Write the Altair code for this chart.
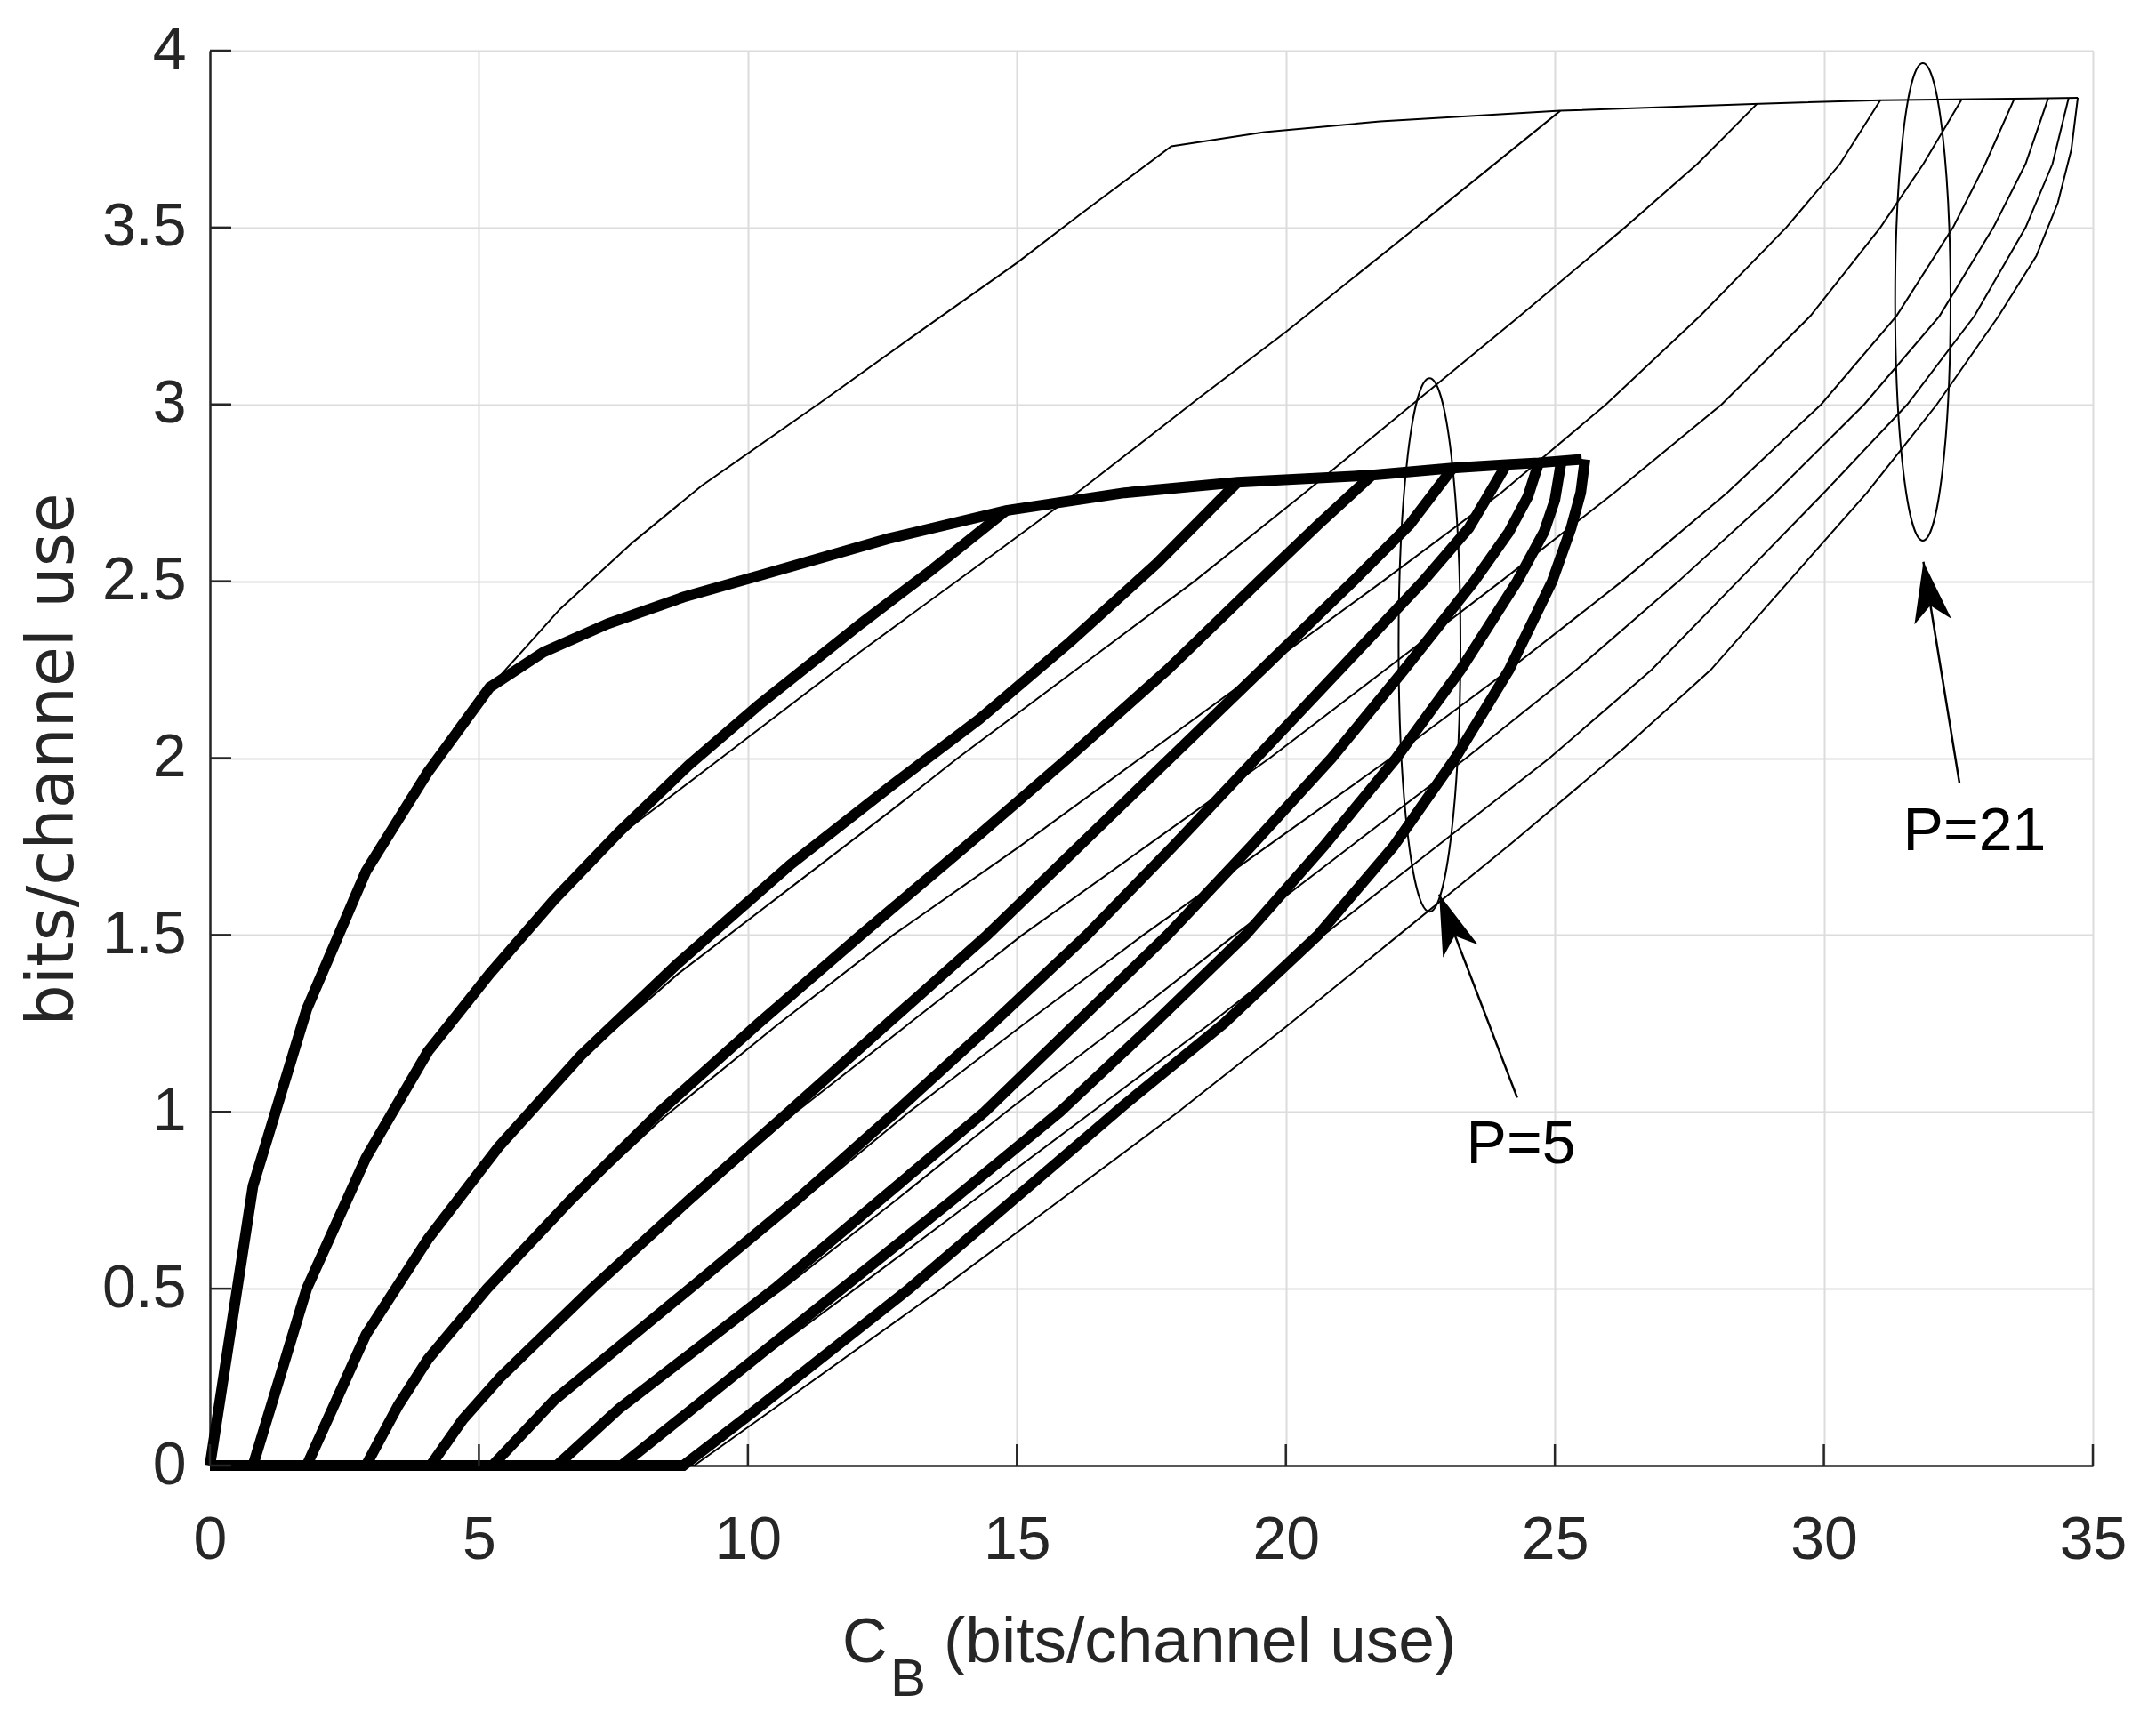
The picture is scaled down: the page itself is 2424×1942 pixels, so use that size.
import altair as alt
import pandas as pd

# ---------------- data ----------------
X_TICKS = [0, 5, 10, 15, 20, 25, 30, 35]
Y_TICKS = [0, 0.5, 1, 1.5, 2, 2.5, 3, 3.5, 4]

# P = 5 family (thick curves)
T1_X = [0, 0.8, 1.8, 2.9, 4.05, 5.2, 6.2, 7.4, 8.8, 10.3, 12.6, 14.8, 17.0, 19.1, 21.6, 23.1, 24.1, 24.7, 25.1, 25.5]
T1_Y = [0, 0.79, 1.29, 1.68, 1.96, 2.2, 2.3, 2.38, 2.455, 2.52, 2.62, 2.70, 2.75, 2.78, 2.80, 2.82, 2.83, 2.835, 2.84, 2.845]
T2_X = [0, 0.8, 1.8, 2.9, 4.05, 5.2, 6.4, 7.6, 8.9, 10.2, 12.1, 13.4, 14.8]
T2_Y = [0, 0, 0.5, 0.87, 1.17, 1.39, 1.6, 1.79, 1.98, 2.15, 2.38, 2.53, 2.70]
T3_X = [0, 1.8, 2.9, 4.05, 5.36, 6.9, 8.7, 10.8, 12.65, 14.3, 16.0, 17.6, 19.1]
T3_Y = [0, 0, 0.37, 0.64, 0.9, 1.16, 1.42, 1.7, 1.92, 2.11, 2.33, 2.55, 2.78]
T4_X = [0, 2.9, 3.5, 4.05, 5.15, 6.7, 8.36, 10.2, 12.1, 14.2, 15.95, 17.8, 19.5, 20.6, 21.6]
T4_Y = [0, 0, 0.17, 0.3, 0.5, 0.75, 1.0, 1.25, 1.5, 1.77, 2.0, 2.25, 2.5, 2.66, 2.80]
T5_X = [0, 4.1, 4.7, 5.4, 7.1, 8.9, 10.76, 12.6, 14.45, 16.15, 17.85, 19.55, 21.25, 22.3, 23.1]
T5_Y = [0, 0, 0.13, 0.25, 0.5, 0.75, 1.0, 1.25, 1.5, 1.75, 2.0, 2.25, 2.5, 2.66, 2.82]
T6_X = [0, 5.25, 6.4, 9.0, 10.9, 12.75, 14.55, 16.3, 17.9, 19.45, 21.0, 22.55, 23.4, 24.1]
T6_Y = [0, 0, 0.185, 0.51, 0.75, 1.0, 1.25, 1.5, 1.75, 2.0, 2.25, 2.5, 2.65, 2.83]
T7_X = [0, 6.45, 7.6, 10.5, 12.45, 14.4, 16.1, 17.8, 19.35, 20.85, 22.2, 23.5, 24.15, 24.5, 24.7]
T7_Y = [0, 0, 0.16, 0.5, 0.75, 1.0, 1.25, 1.5, 1.75, 2.0, 2.25, 2.5, 2.64, 2.74, 2.835]
T8_X = [0, 7.65, 8.8, 11.75, 13.8, 15.8, 17.55, 19.25, 20.7, 22.05, 23.25, 24.3, 24.8, 25.0, 25.12]
T8_Y = [0, 0, 0.14, 0.5, 0.75, 1.0, 1.25, 1.5, 1.75, 2.0, 2.25, 2.5, 2.64, 2.73, 2.84]
T9_X = [0, 8.8, 10.0, 13.0, 15.0, 17.0, 18.85, 20.6, 22.0, 23.15, 24.15, 24.95, 25.3, 25.48, 25.56]
T9_Y = [0, 0, 0.14, 0.5, 0.76, 1.02, 1.25, 1.5, 1.75, 2.0, 2.25, 2.5, 2.65, 2.75, 2.845]

# P = 21 family (thin curves)
N1_X = [0, 0.8, 1.8, 2.9, 4.05, 5.2, 6.5, 7.86, 9.14, 11.3, 13.0, 15.0, 16.2, 17.87, 19.6, 21.75, 25.1, 28.8, 31.05, 33.5, 34.72]
N1_Y = [0, 0.79, 1.29, 1.68, 1.96, 2.2, 2.42, 2.61, 2.77, 3.0, 3.185, 3.4, 3.54, 3.73, 3.77, 3.80, 3.83, 3.85, 3.86, 3.864, 3.867]
N2_X = [0, 0.8, 1.8, 2.9, 4.05, 5.2, 6.4, 7.6, 9.5, 12.08, 14.15, 16.2, 18.4, 20.0, 22.5, 25.1]
N2_Y = [0, 0, 0.5, 0.87, 1.17, 1.39, 1.6, 1.78, 2.0, 2.3, 2.53, 2.76, 3.02, 3.205, 3.51, 3.83]
N3_X = [0, 1.8, 2.9, 4.05, 5.36, 6.9, 8.7, 10.5, 12.65, 13.9, 16.1, 18.3, 20.35, 22.35, 24.35, 26.3, 27.65, 28.76]
N3_Y = [0, 0, 0.37, 0.64, 0.9, 1.15, 1.39, 1.6, 1.85, 2.0, 2.25, 2.5, 2.75, 3.0, 3.25, 3.5, 3.68, 3.85]
N4_X = [0, 2.9, 3.5, 4.05, 5.15, 6.7, 8.4, 10.5, 12.7, 15.05, 17.3, 19.55, 21.8, 24.0, 25.95, 27.7, 29.3, 30.3, 31.05]
N4_Y = [0, 0, 0.17, 0.3, 0.5, 0.74, 0.98, 1.24, 1.5, 1.75, 2.0, 2.25, 2.5, 2.75, 3.0, 3.25, 3.5, 3.68, 3.86]
N5_X = [0, 4.1, 4.7, 5.4, 7.15, 9.0, 10.9, 13.0, 15.1, 17.4, 19.7, 21.85, 24.0, 26.1, 28.1, 29.75, 31.05, 31.85, 32.56]
N5_Y = [0, 0, 0.13, 0.25, 0.5, 0.75, 1.0, 1.25, 1.5, 1.75, 2.0, 2.25, 2.5, 2.75, 3.0, 3.25, 3.5, 3.68, 3.862]
N6_X = [0, 5.25, 6.4, 9.1, 11.05, 13.0, 15.15, 17.35, 19.65, 21.95, 24.15, 26.25, 28.2, 29.95, 31.35, 32.4, 33.0, 33.54]
N6_Y = [0, 0, 0.185, 0.51, 0.755, 1.0, 1.25, 1.5, 1.75, 2.0, 2.25, 2.5, 2.75, 3.0, 3.25, 3.5, 3.68, 3.864]
N7_X = [0, 6.45, 7.6, 10.65, 12.75, 14.8, 16.95, 19.05, 21.2, 23.35, 25.4, 27.3, 29.1, 30.75, 32.15, 33.15, 33.75, 34.17]
N7_Y = [0, 0, 0.16, 0.5, 0.75, 1.0, 1.25, 1.5, 1.75, 2.0, 2.25, 2.5, 2.75, 3.0, 3.25, 3.5, 3.68, 3.865]
N8_X = [0, 7.65, 8.8, 12.0, 14.2, 16.4, 18.6, 20.7, 22.8, 24.9, 26.8, 28.4, 30.0, 31.55, 32.8, 33.75, 34.25, 34.55]
N8_Y = [0, 0, 0.14, 0.5, 0.75, 1.0, 1.25, 1.5, 1.75, 2.0, 2.25, 2.5, 2.75, 3.0, 3.25, 3.5, 3.68, 3.866]
N9_X = [0, 9.0, 10.2, 13.6, 15.8, 18.0, 20.0, 22.1, 24.2, 26.3, 27.9, 29.35, 30.8, 32.1, 33.25, 33.95, 34.35, 34.6, 34.72]
N9_Y = [0, 0, 0.13, 0.5, 0.75, 1.0, 1.24, 1.5, 1.76, 2.03, 2.25, 2.5, 2.75, 3.0, 3.25, 3.42, 3.57, 3.72, 3.867]

# annotations
LABELS = ["P=5", "P=21"]
LABEL_X = [24.37, 32.8]
LABEL_Y = [0.905, 1.79]
ELLIPSE_X = [22.67, 31.84]
ELLIPSE_Y = [2.32, 3.29]
ARROW_TAIL_X = [24.3, 32.52]
ARROW_TAIL_Y = [1.04, 1.93]
ARROW_TIP_X = [22.85, 31.85]
ARROW_TIP_Y = [1.615, 2.555]

# ---------------- layout / style ----------------
W, H = 2117, 1591
FONT = "Liberation Sans"
AX = "#262626"
GRID = "#dcdcdc"


def curve_frame(pairs, prefix):
    rows = []
    for k, (xs, ys) in enumerate(pairs, start=1):
        for i, (a, b) in enumerate(zip(xs, ys)):
            rows.append({"x": a, "y": b, "curve": f"{prefix}{k}", "i": i})
    return pd.DataFrame(rows)


thick = curve_frame([(T1_X, T1_Y), (T2_X, T2_Y), (T3_X, T3_Y), (T4_X, T4_Y), (T5_X, T5_Y),
                     (T6_X, T6_Y), (T7_X, T7_Y), (T8_X, T8_Y), (T9_X, T9_Y)], "T")
thin = curve_frame([(N1_X, N1_Y), (N2_X, N2_Y), (N3_X, N3_Y), (N4_X, N4_Y), (N5_X, N5_Y),
                    (N6_X, N6_Y), (N7_X, N7_Y), (N8_X, N8_Y), (N9_X, N9_Y)], "N")

xsc = alt.Scale(domain=[0, 35], nice=False, zero=False)
ysc = alt.Scale(domain=[0, 4], nice=False, zero=False)

xax = alt.Axis(values=X_TICKS, grid=True, gridColor=GRID, gridWidth=2,
               domainColor=AX, domainWidth=2.5, ticks=False, tickSize=0,
               labelFont=FONT, labelFontSize=68, labelColor=AX, labelPadding=50,
               labelFlush=False, labelOverlap=False, title=None, format="~g")
yax = alt.Axis(values=Y_TICKS, grid=True, gridColor=GRID, gridWidth=2,
               domainColor=AX, domainWidth=2.5, ticks=False, tickSize=0,
               labelFont=FONT, labelFontSize=68, labelColor=AX, labelPadding=27,
               labelFlush=False, labelOverlap=False, title=None, format="~g")


def X(f="x"):
    return alt.X(f"{f}:Q", scale=xsc, axis=xax)


def Y(f="y"):
    return alt.Y(f"{f}:Q", scale=ysc, axis=yax)


thick_layer = alt.Chart(thick).mark_line(color="black", strokeWidth=12, strokeCap="butt",
                                         strokeJoin="miter").encode(
    x=X(), y=Y(), detail="curve:N", order="i:Q")
thin_layer = alt.Chart(thin).mark_line(color="black", strokeWidth=2).encode(
    x=X(), y=Y(), detail="curve:N", order="i:Q")

# inward ticks (MATLAB style)
xt = alt.Chart(pd.DataFrame({"x": X_TICKS})).mark_rule(color=AX, strokeWidth=2.5).encode(
    x=X(), y=alt.value(H), y2=alt.value(H - 24))
yt = alt.Chart(pd.DataFrame({"y": Y_TICKS})).mark_rule(color=AX, strokeWidth=2.5).encode(
    y=Y(), x=alt.value(0), x2=alt.value(24))

ann = pd.DataFrame({"label": LABELS, "lx": LABEL_X, "ly": LABEL_Y,
                    "ex": ELLIPSE_X, "ey": ELLIPSE_Y,
                    "tx": ARROW_TAIL_X, "ty": ARROW_TAIL_Y,
                    "hx": ARROW_TIP_X, "hy": ARROW_TIP_Y})

K = 0.5523
R = 0.116
ELLIPSE = (f"M0,-1C{K*R:.4f},-1 {R},{-K} {R},0C{R},{K} {K*R:.4f},1 0,1"
           f"C{-K*R:.4f},1 {-R},{K} {-R},0C{-R},{-K} {-K*R:.4f},-1 0,-1Z")
HEAD = "M0,0L0.4,1.3L0,0.95L-0.4,1.3Z"

ann5 = ann.iloc[[0]]
ann21 = ann.iloc[[1]]

ell5 = alt.Chart(ann5).mark_point(shape=ELLIPSE, filled=False, color="black", strokeWidth=2,
                                  opacity=1, size=600 ** 2).encode(x=X("ex"), y=Y("ey"))
ell21 = alt.Chart(ann21).mark_point(shape=ELLIPSE, filled=False, color="black", strokeWidth=2,
                                    opacity=1, size=537 ** 2).encode(x=X("ex"), y=Y("ey"))

arrow_lines = alt.Chart(ann).mark_rule(color="black", strokeWidth=2.5).encode(
    x=X("tx"), y=Y("ty"), x2="hx:Q", y2="hy:Q")
head5 = alt.Chart(ann5).mark_point(shape=HEAD, filled=True, color="black", opacity=1,
                                   size=11000, angle=339.5, strokeWidth=0).encode(x=X("hx"), y=Y("hy"))
head21 = alt.Chart(ann21).mark_point(shape=HEAD, filled=True, color="black", opacity=1,
                                     size=11000, angle=351, strokeWidth=0).encode(x=X("hx"), y=Y("hy"))

labels = alt.Chart(ann).mark_text(font=FONT, fontSize=68, color="black", align="center",
                                  baseline="middle").encode(x=X("lx"), y=Y("ly"), text="label:N")

# axis titles
ytitle = alt.Chart(pd.DataFrame({"t": ["bits/channel use"]})).mark_text(
    font="DejaVu Sans", fontSize=73, color=AX, angle=270, align="center", baseline="middle").encode(
    x=alt.value(-176), y=alt.value(797), text="t:N")
xt_c = alt.Chart(pd.DataFrame({"t": ["C"]})).mark_text(
    font=FONT, fontSize=70, color=AX, align="left", baseline="alphabetic").encode(
    x=alt.value(711), y=alt.value(1812), text="t:N")
xt_b = alt.Chart(pd.DataFrame({"t": ["B"]})).mark_text(
    font=FONT, fontSize=60, color=AX, align="left", baseline="alphabetic").encode(
    x=alt.value(765), y=alt.value(1850), text="t:N")
xt_rest = alt.Chart(pd.DataFrame({"t": ["(bits/channel use)"]})).mark_text(
    font=FONT, fontSize=73, color=AX, align="left", baseline="alphabetic").encode(
    x=alt.value(825), y=alt.value(1812), text="t:N")

chart = alt.layer(
    thick_layer, thin_layer, xt, yt, ell5, ell21, arrow_lines,
    head5, head21, labels, ytitle, xt_c, xt_b, xt_rest
).properties(
    width=W, height=H,
    autosize=alt.AutoSizeParams(type="none"),
    padding={"left": 228, "top": 49, "right": 55, "bottom": 290},
).configure_view(stroke=None).configure(background="white")

chart.save("out.html", embed_options={"renderer": "svg", "actions": False})
